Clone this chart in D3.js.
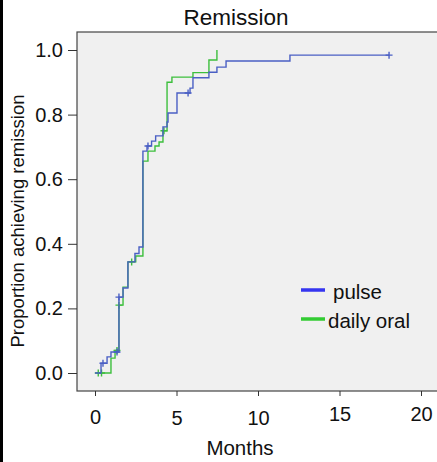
<!DOCTYPE html>
<html><head><meta charset="utf-8">
<script src="https://cdn.jsdelivr.net/npm/d3@7"></script>
<style>
html,body{margin:0;padding:0;background:#fff;}
svg{display:block;font-family:"Liberation Sans",Arial,sans-serif;}
</style></head>
<body>
<script>
// ---- data ----
const seriesNames = ["pulse", "daily oral"];
// step points: [month, proportion]
const pulseSteps = [[0,0],[0.37,0.03],[0.74,0.05],[0.98,0.065],[1.47,0.235],[1.72,0.263],[2.02,0.344],[2.45,0.37],[2.70,0.39],[2.94,0.687],[3.19,0.703],[3.47,0.718],[3.72,0.734],[4.17,0.762],[4.42,0.777],[4.48,0.805],[5.03,0.867],[5.83,0.882],[6.01,0.914],[6.99,0.931],[7.48,0.947],[8.04,0.966],[11.96,0.984],[18.04,0.984]];
const pulseCensored = [[0.49,0.03],[1.35,0.065],[1.47,0.235],[3.25,0.703],[5.71,0.867],[18.04,0.984]];
const oralSteps = [[0.12,0],[0.98,0.046],[1.23,0.07],[1.47,0.21],[1.72,0.266],[2.02,0.344],[2.5,0.362],[2.94,0.656],[3.25,0.687],[3.68,0.703],[3.93,0.715],[4.17,0.75],[4.42,0.90],[4.72,0.916],[6.01,0.93],[6.99,0.969],[7.48,1.0]];
const oralCensored = [[0.2,0],[0.4,0],[1.35,0.07],[1.47,0.21],[2.25,0.344],[4.23,0.75]];
const xTicks = [0,5,10,15,20];
const yTicks = [0,0.2,0.4,0.6,0.8,1.0];

const W = 437, H = 462;
const svg = d3.select("body").append("svg").attr("width", W).attr("height", H);

// outer left border
svg.append("rect").attr("x",0).attr("y",0).attr("width",3).attr("height",H).attr("fill","#000");

const plot = {left:77, top:32, right:445, bottom:391};
const x = d3.scaleLinear().domain([0,20]).range([95,421]);
const y = d3.scaleLinear().domain([0,1]).range([373,50]);

svg.append("rect").attr("x",plot.left).attr("y",plot.top)
  .attr("width",plot.right-plot.left).attr("height",plot.bottom-plot.top)
  .attr("fill","#f0f0f0").attr("stroke","#444").attr("stroke-width",1.2);

// title
svg.append("text").attr("x",236).attr("y",25).attr("text-anchor","middle")
  .attr("font-size",22.5).attr("fill","#111").text("Remission");

// y axis
const yAxis = svg.append("g").attr("transform",`translate(${plot.left},0)`)
  .call(d3.axisLeft(y).tickValues(yTicks).tickFormat(d3.format(".1f")).tickSize(9).tickPadding(5));
yAxis.select(".domain").remove();
yAxis.selectAll("line").attr("stroke","#333");
yAxis.selectAll("text").attr("font-size",20).attr("fill","#111").attr("font-family","Liberation Sans, Arial, sans-serif");

// x axis
const xAxis = svg.append("g").attr("transform",`translate(0,${plot.bottom})`)
  .call(d3.axisBottom(x).tickValues(xTicks).tickSize(5).tickPadding(14));
xAxis.select(".domain").remove();
xAxis.selectAll("line").attr("stroke","#333");
const xLabelShift = {0:0,5:1,10:1,15:-3,20:-3};
xAxis.selectAll("text").attr("font-size",20).attr("fill","#111").attr("font-family","Liberation Sans, Arial, sans-serif")
  .attr("dy", d => (0.71 + xLabelShift[d]/20) + "em");

// axis titles
svg.append("text").attr("x",240).attr("y",455).attr("text-anchor","middle")
  .attr("font-size",20.5).attr("fill","#111").text("Months");
svg.append("text").attr("transform","translate(24,221) rotate(-90)").attr("text-anchor","middle")
  .attr("font-size",18.5).attr("fill","#111").text("Proportion achieving remission");

// curves
const line = d3.line().x(d=>x(d[0])).y(d=>y(d[1])).curve(d3.curveStepAfter);
const colors = {pulse:"#4a5fc4", oral:"#3dbf3d"};
function drawSeries(steps, cens, color){
  svg.append("path").datum(steps).attr("d",line).attr("fill","none")
    .attr("stroke",color).attr("stroke-width",1.4);
  svg.append("g").selectAll("path").data(cens).join("path")
    .attr("d", d => { const cx=x(d[0]), cy=y(d[1]); return `M${cx-3.5},${cy}H${cx+3.5}M${cx},${cy-3.5}V${cy+3.5}`; })
    .attr("stroke",color).attr("stroke-width",1.4);
}
drawSeries(oralSteps, oralCensored, colors.oral);
drawSeries(pulseSteps, pulseCensored, colors.pulse);

// legend
const legendColors = ["#3535f0","#33cc33"];
const legendY = [290, 319];
const legendTextX = [333, 328];
seriesNames.forEach((n,i)=>{
  svg.append("line").attr("x1",301).attr("x2",325).attr("y1",legendY[i]).attr("y2",legendY[i])
    .attr("stroke",legendColors[i]).attr("stroke-width",3.5);
  svg.append("text").attr("x",legendTextX[i]).attr("y",legendY[i]+4).attr("dominant-baseline","middle")
    .attr("font-size",20.5).attr("fill","#111").text(n);
});
</script>
</body></html>
